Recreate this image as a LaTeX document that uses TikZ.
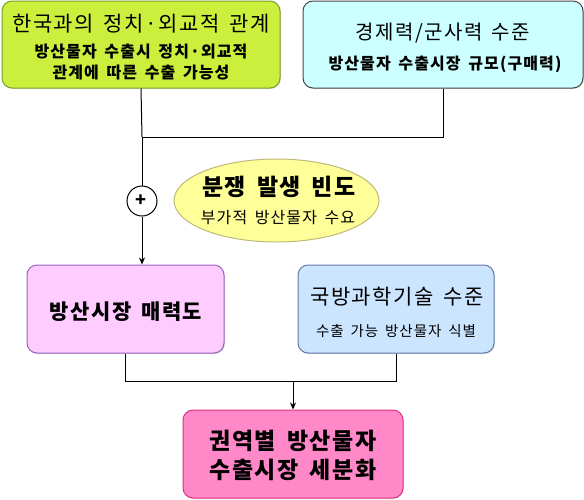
\documentclass[tikz,border=0pt]{standalone}
\usepackage{fontspec}
\setmainfont{Noto Sans CJK KR}[LetterSpace=7,WordSpace=1.6]
\usetikzlibrary{arrows.meta,shadows,shapes.geometric}
\definecolor{gfill}{RGB}{204,238,60}
\definecolor{gline}{RGB}{120,160,40}
\definecolor{cfill}{RGB}{204,255,255}
\definecolor{cline}{RGB}{70,70,70}
\definecolor{efill}{RGB}{255,255,153}
\definecolor{eline}{RGB}{190,185,120}
\definecolor{pfill}{RGB}{255,204,255}
\definecolor{pline}{RGB}{150,100,190}
\definecolor{bfill}{RGB}{204,229,255}
\definecolor{bline}{RGB}{100,120,170}
\definecolor{hfill}{RGB}{255,136,200}
\definecolor{hline}{RGB}{220,50,130}
\tikzset{
  boxnode/.style={draw, line width=1pt, rounded corners=10pt, inner sep=0pt, anchor=center,
    drop shadow={shadow xshift=1pt, shadow yshift=-1pt, opacity=0.25}},
  txt/.style={inner sep=0pt, anchor=center, font=#1},
  conn/.style={line width=1pt, draw=black},
  arr/.style={conn, -{Stealth[length=7pt,width=6pt]}},
}
\newcommand{\fs}[1]{\fontsize{#1}{#1}\selectfont}
\begin{document}
\begin{tikzpicture}[x=1pt,y=-1pt]
\useasboundingbox (0,0) rectangle (584,499);
% boxes
\node[boxnode, fill=gfill, draw=gline, minimum width=278pt, minimum height=87pt] (b1) at (141,44.5) {};
\node[boxnode, fill=cfill, draw=cline, minimum width=280pt, minimum height=87pt] (b2) at (443,44.5) {};
\node[draw=eline, fill=efill, line width=1pt, ellipse, inner sep=0pt, minimum width=205pt, minimum height=83pt] (el) at (276.5,200.5) {};
\node[draw, circle, fill=white, line width=1pt, minimum size=30pt, inner sep=0pt] (plus) at (142,201) {\fs{18}\textbf{+}};
\node[boxnode, fill=pfill, draw=pline, minimum width=197pt, minimum height=88pt] (b3) at (125.5,309) {};
\node[boxnode, fill=bfill, draw=bline, minimum width=196pt, minimum height=88pt] (b4) at (396,309) {};
\node[boxnode, fill=hfill, draw=hline, minimum width=220pt, minimum height=88pt] (b5) at (293,454) {};
% texts
\node[txt=\fs{21}] (t1a) at (141,24) {한국과의 정치·외교적 관계};
\node[txt=\fs{16}\bfseries] (t1b) at (141,52) {방산물자 수출시 정치·외교적};
\node[txt=\fs{16}\bfseries] (t1c) at (141,72) {관계에 따른 수출 가능성};
\node[txt=\fs{20}] (t2a) at (443,33) {경제력/군사력 수준};
\node[txt=\fs{16}\bfseries] (t2b) at (445,64) {방산물자 수출시장 규모(구매력)};
\node[txt=\fs{23}\bfseries] (tea) at (279,187) {분쟁 발생 빈도};
\node[txt=\fs{16}] (teb) at (278,218) {부가적 방산물자 수요};
\node[txt=\fs{21}\bfseries] (t3) at (126,312) {방산시장 매력도};
\node[txt=\fs{21}] (t4a) at (397,297) {국방과학기술 수준};
\node[txt=\fs{14.5}] (t4b) at (396,331) {수출 가능 방산물자 식별};
\node[txt=\fs{23}\bfseries] (t5a) at (293,441) {권역별 방산물자};
\node[txt=\fs{23}\bfseries] (t5b) at (293,470) {수출시장 세분화};
% connectors
\coordinate (j1) at (142,137);
\coordinate (j2) at (293,381);
\draw[conn] (b1.south) -- (j1);
\draw[conn] (b2.south) |- (j1);
\draw[conn] (j1) -- (plus.north);
\draw[arr] (plus.south) -- (plus.south |- b3.north);
\draw[conn] (b3.south) |- (j2);
\draw[conn] (b4.south) |- (j2);
\draw[arr] (j2) -- (b5.north);
\end{tikzpicture}
\end{document}
